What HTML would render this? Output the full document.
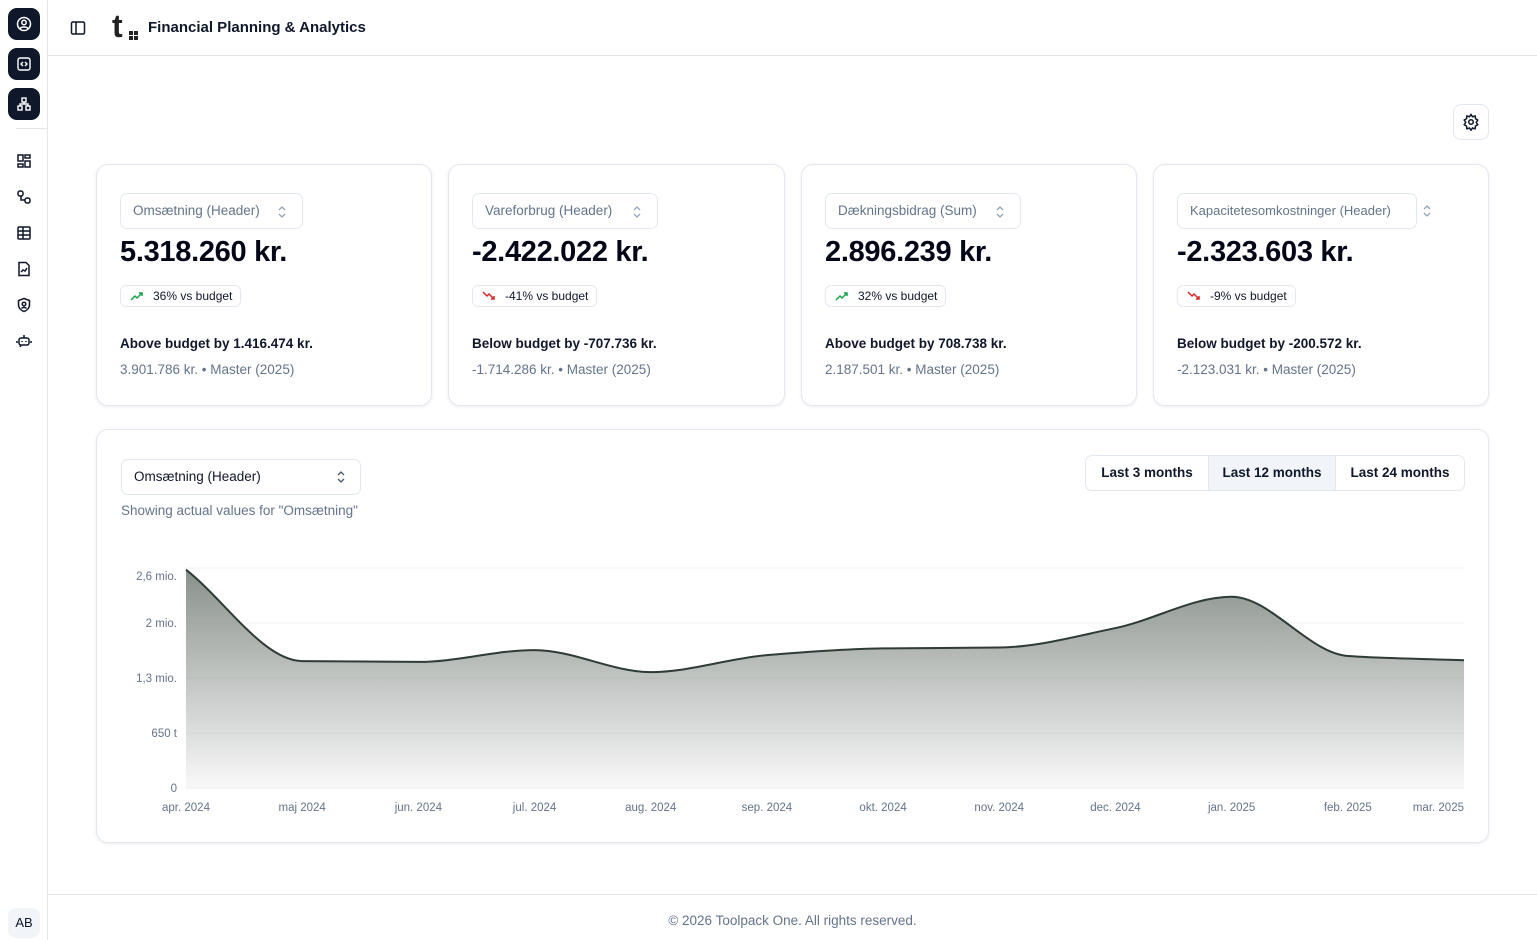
<!DOCTYPE html>
<html><head><meta charset="utf-8"><style>
*{box-sizing:border-box;margin:0;padding:0}
body{width:1537px;height:940px;overflow:hidden;background:#fff;font-family:"Liberation Sans",sans-serif;color:#0f172a;position:relative}
.abs{position:absolute}
.side{left:0;top:0;width:48px;height:940px;border-right:1px solid #e5e7eb}
.sbtn{position:absolute;left:8px;width:32px;height:32px;border-radius:9px;background:#0f172a;display:flex;align-items:center;justify-content:center}
.nav{position:absolute;left:16px;width:16px;height:16px}
.card{position:absolute;border:1px solid #e2e8f0;border-radius:12px;background:#fff;box-shadow:0 1px 3px rgba(0,0,0,.08)}
.sel{position:absolute;left:23px;top:28px;height:36px;border:1px solid #e2e8f0;border-radius:7px;font-size:13.5px;color:#64748b;padding:0 12px;line-height:34px;white-space:nowrap}
.chev{position:absolute;top:11px}
.val{position:absolute;left:23px;top:71px;font-size:29px;font-weight:700;letter-spacing:-.3px;color:#020617}
.badge{position:absolute;left:23px;top:120px;height:22px;border:1px solid #e2e8f0;border-radius:6px;font-size:12px;line-height:20px;padding:0 8px 0 32px;white-space:nowrap}
.badge svg{position:absolute;left:9px;top:4px}
.ab{position:absolute;left:23px;top:171px;font-size:13.5px;font-weight:700;white-space:nowrap}
.sub{position:absolute;left:23px;top:197px;font-size:13.5px;color:#64748b;white-space:nowrap}
</style></head><body>
<svg width="0" height="0" style="position:absolute"><defs><g id="ud"><path d="M2 5l3-3 3 3M2 9l3 3 3-3" fill="none" stroke="#94a3b8" stroke-width="1.3"/></g></defs></svg>
<div class="abs side">
 <div class="sbtn" style="top:8px"><svg width="16" height="16" viewBox="0 0 16 16" fill="none" stroke="#fff" stroke-width="1.5"><circle cx="8" cy="8" r="6.5"/><circle cx="8" cy="6.5" r="2.2"/><path d="M4 12.5c1.5-2 6.5-2 8 0"/></svg></div>
 <div class="sbtn" style="top:48px"><svg width="16" height="16" viewBox="0 0 16 16" fill="none" stroke="#fff" stroke-width="1.4"><rect x="2" y="2" width="12" height="12" rx="2"/><path d="M7 6l-2 2 2 2M9 6l2 2-2 2"/></svg></div>
 <div class="sbtn" style="top:88px"><svg width="16" height="16" viewBox="0 0 16 16" fill="none" stroke="#fff" stroke-width="1.4"><rect x="6" y="2" width="4" height="4"/><rect x="2" y="10" width="4" height="4"/><rect x="10" y="10" width="4" height="4"/><path d="M8 6v2M4 10V8h8v2"/></svg></div>
 <div class="abs" style="left:16px;top:128px;width:32px;border-top:1px solid #e5e7eb"></div>
 <svg class="nav" style="top:153px" viewBox="0 0 16 16" fill="none" stroke="#0f172a" stroke-width="1.5"><rect x="2" y="2" width="5" height="6"/><rect x="9" y="2" width="5" height="3"/><rect x="9" y="8" width="5" height="6"/><rect x="2" y="11" width="5" height="3"/></svg>
 <svg class="nav" style="top:189px" viewBox="0 0 16 16" fill="none" stroke="#0f172a" stroke-width="1.5"><rect x="2" y="2" width="5" height="5" rx="2"/><rect x="9" y="9" width="5" height="5" rx="2"/><path d="M5 7v4h4"/></svg>
 <svg class="nav" style="top:225px" viewBox="0 0 16 16" fill="none" stroke="#0f172a" stroke-width="1.5"><rect x="2" y="2" width="12" height="12" rx="1"/><path d="M2 6h12M2 10h12M7 2v12"/></svg>
 <svg class="nav" style="top:261px" viewBox="0 0 16 16" fill="none" stroke="#0f172a" stroke-width="1.5"><path d="M3 1.5h7l3 3v10H3z"/><path d="M5 11l2-2 2 1 2-3"/></svg>
 <svg class="nav" style="top:297px" viewBox="0 0 16 16" fill="none" stroke="#0f172a" stroke-width="1.5"><path d="M8 1.5l5.5 2v4c0 3.5-2.5 6-5.5 7-3-1-5.5-3.5-5.5-7v-4z"/><circle cx="8" cy="7" r="1.8"/><path d="M5.5 11.5c1-1.5 4-1.5 5 0"/></svg>
 <svg class="nav" style="top:333px" viewBox="0 0 16 16" fill="none" stroke="#0f172a" stroke-width="1.5"><rect x="3" y="5" width="10" height="7" rx="2"/><path d="M8 2v3M6 8v1M10 8v1M1 8v2M15 8v2M5 12l-1 2"/></svg>
 <div class="abs" style="left:8px;top:908px;width:32px;height:30px;border-radius:8px;background:#f1f5f9;font-size:13px;line-height:30px;text-align:center">AB</div>
</div>
<div class="abs" style="left:48px;top:55px;width:1489px;border-top:1px solid #e5e7eb"></div>
<svg class="abs" style="left:70px;top:20px" width="16" height="16" viewBox="0 0 16 16" fill="none" stroke="#0f172a" stroke-width="1.5"><rect x="1.5" y="2" width="13" height="12" rx="1.5"/><path d="M6 2v12"/></svg>
<div class="abs" style="left:112px;top:10px;font-size:32px;font-weight:700;color:#222;line-height:32px">t</div>
<div class="abs" style="left:129px;top:31px;width:9px;height:9px;background:linear-gradient(#222 0 0) 0 0/4px 4px no-repeat,linear-gradient(#222 0 0) 5px 0/4px 4px no-repeat,linear-gradient(#222 0 0) 0 5px/4px 4px no-repeat,linear-gradient(#222 0 0) 5px 5px/4px 4px no-repeat"></div>
<div class="abs" style="left:148px;top:19px;font-size:15px;font-weight:700">Financial Planning &amp; Analytics</div>
<div class="abs" style="left:1453px;top:104px;width:36px;height:36px;border:1px solid #e2e8f0;border-radius:8px;display:flex;align-items:center;justify-content:center"><svg width="18" height="18" viewBox="0 0 24 24" fill="none" stroke="#0f172a" stroke-width="2"><circle cx="12" cy="12" r="3"/><path d="M12 2l2 3 3.5-1 .5 3.5 3 2-2 3 2 3-3 2-.5 3.5-3.5-1-2 3-2-3-3.5 1-.5-3.5-3-2 2-3-2-3 3-2 .5-3.5 3.5 1z"/></svg></div>

<div class="card" style="left:96px;top:164px;width:336px;height:242px">
 <div class="sel" style="width:183px">Omsætning (Header)<svg class="chev" style="left:156px" width="10" height="14"><use href="#ud"/></svg></div>
 <div class="val">5.318.260 kr.</div>
 <div class="badge"><svg width="14" height="12" viewBox="0 0 14 12" fill="none" stroke="#16a34a" stroke-width="1.5"><path d="M1 10l4-4 2 2 5-5M9 3h3v3"/></svg>36% vs budget</div>
 <div class="ab">Above budget by 1.416.474 kr.</div>
 <div class="sub">3.901.786 kr. • Master (2025)</div>
</div>
<div class="card" style="left:448px;top:164px;width:337px;height:242px">
 <div class="sel" style="width:186px">Vareforbrug (Header)<svg class="chev" style="left:159px" width="10" height="14"><use href="#ud"/></svg></div>
 <div class="val">-2.422.022 kr.</div>
 <div class="badge"><svg width="14" height="12" viewBox="0 0 14 12" fill="none" stroke="#dc2626" stroke-width="1.5"><path d="M1 2l4 4 2-2 5 5M9 9h3V6"/></svg>-41% vs budget</div>
 <div class="ab">Below budget by -707.736 kr.</div>
 <div class="sub">-1.714.286 kr. • Master (2025)</div>
</div>
<div class="card" style="left:801px;top:164px;width:336px;height:242px">
 <div class="sel" style="width:196px">Dækningsbidrag (Sum)<svg class="chev" style="left:169px" width="10" height="14"><use href="#ud"/></svg></div>
 <div class="val">2.896.239 kr.</div>
 <div class="badge"><svg width="14" height="12" viewBox="0 0 14 12" fill="none" stroke="#16a34a" stroke-width="1.5"><path d="M1 10l4-4 2 2 5-5M9 3h3v3"/></svg>32% vs budget</div>
 <div class="ab">Above budget by 708.738 kr.</div>
 <div class="sub">2.187.501 kr. • Master (2025)</div>
</div>
<div class="card" style="left:1153px;top:164px;width:336px;height:242px">
 <div class="sel" style="width:240px;font-size:13px">Kapacitetesomkostninger (Header)</div>
 <svg class="abs" style="left:268px;top:39px" width="10" height="14"><use href="#ud"/></svg>
 <div class="val">-2.323.603 kr.</div>
 <div class="badge"><svg width="14" height="12" viewBox="0 0 14 12" fill="none" stroke="#dc2626" stroke-width="1.5"><path d="M1 2l4 4 2-2 5 5M9 9h3V6"/></svg>-9% vs budget</div>
 <div class="ab">Below budget by -200.572 kr.</div>
 <div class="sub">-2.123.031 kr. • Master (2025)</div>
</div>

<div class="card" style="left:96px;top:429px;width:1393px;height:414px">
 <div class="abs" style="left:24px;top:29px;width:240px;height:36px;border:1px solid #e2e8f0;border-radius:7px;font-size:13.5px;line-height:34px;padding-left:12px">Omsætning (Header)<svg style="position:absolute;right:14px;top:10px" width="10" height="14"><path d="M2 5l3-3 3 3M2 9l3 3 3-3" fill="none" stroke="#475569" stroke-width="1.3"/></svg></div>
 <div class="abs" style="left:24px;top:73px;font-size:13.5px;color:#64748b">Showing actual values for "Omsætning"</div>
 <div class="abs" style="left:988px;top:25px;width:380px;height:36px;border:1px solid #e2e8f0;border-radius:7px;display:flex;font-size:13.5px;font-weight:700;line-height:34px;overflow:hidden">
  <div style="width:123px;text-align:center;border-right:1px solid #e2e8f0">Last 3 months</div>
  <div style="width:127px;text-align:center;background:#f1f5f9;border-right:1px solid #e2e8f0">Last 12 months</div>
  <div style="flex:1;text-align:center">Last 24 months</div>
 </div>
</div>
<svg id="chart" class="abs" style="left:0;top:0" width="1537" height="940"></svg>

<div class="abs" style="left:48px;top:894px;width:1489px;border-top:1px solid #e5e7eb"></div>
<div class="abs" style="left:48px;top:913px;width:1489px;text-align:center;font-size:13.5px;color:#64748b">© 2026 Toolpack One. All rights reserved.</div>

<script>
const categories=["apr. 2024","maj 2024","jun. 2024","jul. 2024","aug. 2024","sep. 2024","okt. 2024","nov. 2024","dec. 2024","jan. 2025","feb. 2025","mar. 2025"];
const values=[2580000,1500000,1490000,1630000,1370000,1570000,1650000,1660000,1890000,2260000,1560000,1510000];
const tickValues=[0,650000,1300000,1950000,2600000];
const tickLabels=["0","650 t","1,3 mio.","2 mio.","2,6 mio."];
const NS="http://www.w3.org/2000/svg";
const svg=document.getElementById('chart');
const X0=186,X1=1464,Y0=788,Y1=568,YMAX=2600000;
const x=i=>X0+(X1-X0)*i/(categories.length-1);
const y=v=>Y0-(Y0-Y1)*v/YMAX;
function mk(t,a){const e=document.createElementNS(NS,t);for(const k in a)e.setAttribute(k,a[k]);svg.appendChild(e);return e;}
const defs=mk('defs',{});
defs.innerHTML='<linearGradient id="g" x1="0" y1="0" x2="0" y2="1"><stop offset="0" stop-color="#8a918c"/><stop offset="1" stop-color="#8a918c" stop-opacity="0.06"/></linearGradient>';
tickValues.forEach((v,i)=>{
 const l=mk('line',{x1:X0,x2:X1,y1:y(v),y2:y(v),stroke:'#f0f0f0'});
 
 
 const t=mk('text',{x:177,y:y(v)+(i==4?12:4),'text-anchor':'end','font-size':11.5,fill:'#64748b','font-family':'Liberation Sans'});
 t.textContent=tickLabels[i];
 
 
});
categories.forEach((c,i)=>{
 const anchor=i==categories.length-1?'end':'middle';
 const t=mk('text',{x:i==categories.length-1?X1:x(i),y:811,'text-anchor':anchor,'font-size':11.5,fill:'#64748b','font-family':'Liberation Sans'});
 t.textContent=c;
 
 
});
const px=values.map((v,i)=>x(i)),py=values.map(v=>y(v));
const n=px.length,m=[],d=[];
for(let i=0;i<n-1;i++)d.push((py[i+1]-py[i])/(px[i+1]-px[i]));
for(let i=0;i<n;i++){
 if(i==0)m.push(d[0]);else if(i==n-1)m.push(d[n-2]);
 else m.push(d[i-1]*d[i]<=0?0:(2*d[i-1]*d[i])/(d[i-1]+d[i]));
}
let p=`M${px[0]},${py[0]}`;
for(let i=0;i<n-1;i++){const h=(px[i+1]-px[i])/3;p+=` C${px[i]+h},${py[i]+m[i]*h} ${px[i+1]-h},${py[i+1]-m[i+1]*h} ${px[i+1]},${py[i+1]}`;}
const area=mk('path',{d:p+` L${px[n-1]},${Y0} L${px[0]},${Y0} Z`,fill:'url(#g)'});


const line=mk('path',{d:p,fill:'none',stroke:'#2f3b36','stroke-width':2});


</script>
</body></html>
